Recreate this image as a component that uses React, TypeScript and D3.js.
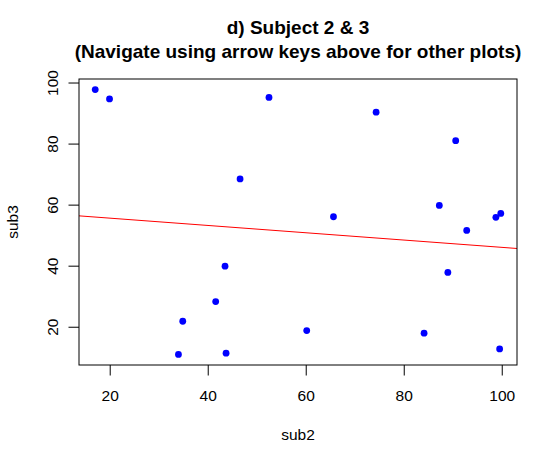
import React from "react";
import * as d3 from "d3";

const sub2 = [16.94, 19.86, 52.4, 46.5, 74.26, 90.5, 87.16, 65.56, 98.7, 99.7, 92.75, 88.9, 60.1, 84.05, 99.47, 43.43, 41.52, 34.8, 33.92, 43.64];
const sub3 = [97.85, 94.8, 95.3, 68.6, 90.45, 81.1, 59.9, 56.2, 56.0, 57.3, 51.7, 37.95, 18.9, 18.06, 12.9, 40.0, 28.4, 21.97, 11.1, 11.5];
const xTicks = [20, 40, 60, 80, 100];
const yTicks = [20, 40, 60, 80, 100];
const titleLines = ["d) Subject 2 & 3", "(Navigate using arrow keys above for other plots)"];
const xLabel = "sub2";
const yLabel = "sub3";

const W = 558, H = 464;
const L = 79, R = 517, T = 79, B = 365;
const FONT = "'Liberation Sans', Arial, Helvetica, sans-serif";

function ext(v: number[]): [number, number] {
  const [a, b] = d3.extent(v) as [number, number];
  const p = (b - a) * 0.04;
  return [a - p, b + p];
}

export default function App() {
  const x = d3.scaleLinear().domain(ext(sub2)).range([L, R]);
  const y = d3.scaleLinear().domain(ext(sub3)).range([B, T]);
  const mx = d3.mean(sub2)!, my = d3.mean(sub3)!;
  let sxy = 0, sxx = 0;
  sub2.forEach((v, i) => { sxy += (v - mx) * (sub3[i] - my); sxx += (v - mx) ** 2; });
  const slope = sxy / sxx;
  const icpt = my - slope * mx;
  const [x0, x1] = x.domain();
  const ticklen = 10.5;
  const fs = 15.5;
  return (
    <svg width={W} height={H} style={{ position: "absolute", left: 0, top: 0, background: "#fff" }} fontFamily={FONT}>
      <rect x={0} y={0} width={W} height={H} fill="#fff" />
      <text x={(L + R) / 2} y={34} textAnchor="middle" fontSize={19} fontWeight="bold">{titleLines[0]}</text>
      <text x={(L + R) / 2} y={57.5} textAnchor="middle" fontSize={19} fontWeight="bold">{titleLines[1]}</text>
      <defs>
        <clipPath id="clip"><rect x={L} y={T} width={R - L} height={B - T} /></clipPath>
      </defs>
      <line clipPath="url(#clip)" x1={x(x0)} y1={y(icpt + slope * x0)} x2={x(x1)} y2={y(icpt + slope * x1)} stroke="#ff0000" strokeWidth={1} />
      {sub2.map((v, i) => (
        <circle key={i} cx={x(v)} cy={y(sub3[i])} r={3.4} fill="#0000ff" />
      ))}
      <rect x={L} y={T} width={R - L} height={B - T} fill="none" stroke="#000" strokeWidth={1} />
      {xTicks.map((t) => (
        <g key={t}>
          <line x1={x(t)} x2={x(t)} y1={B} y2={B + ticklen} stroke="#000" />
          <text x={x(t)} y={401} textAnchor="middle" fontSize={fs}>{t}</text>
        </g>
      ))}
      {yTicks.map((t) => (
        <g key={t}>
          <line x1={L} x2={L - ticklen} y1={y(t)} y2={y(t)} stroke="#000" />
          <text transform={`translate(57.5,${y(t)}) rotate(-90)`} textAnchor="middle" fontSize={fs}>{t}</text>
        </g>
      ))}
      <text x={(L + R) / 2} y={440} textAnchor="middle" fontSize={fs}>{xLabel}</text>
      <text transform={`translate(18.3,${(T + B) / 2}) rotate(-90)`} textAnchor="middle" fontSize={fs}>{yLabel}</text>
    </svg>
  );
}
